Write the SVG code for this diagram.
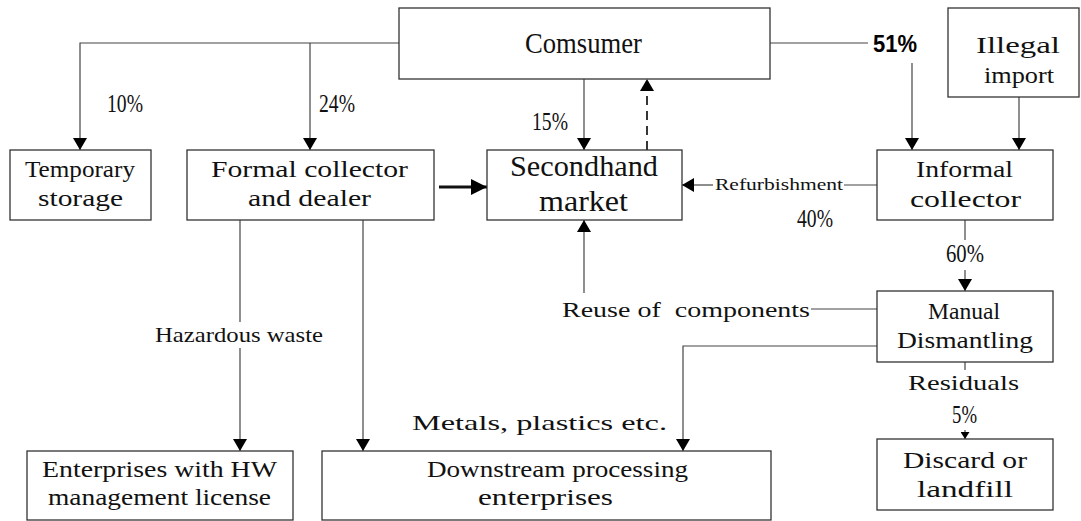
<svg xmlns="http://www.w3.org/2000/svg" width="1081" height="521" viewBox="0 0 1081 521">
<defs>
<style>
.box{fill:#fff;stroke:#333;stroke-width:1.3}
.ln{fill:none;stroke:#444;stroke-width:1.2}
text{font-family:"Liberation Serif","Noto Sans CJK SC",serif;fill:#111}
.t{font-size:24px}
.tb{font-size:29px}
.ts{font-size:17px}
.th{font-size:22px}
.p{font-size:25px}
.b{font-family:"Liberation Sans","Noto Sans CJK SC",sans-serif;font-size:24px;font-weight:bold;fill:#000}
</style>
<marker id="ah" markerUnits="userSpaceOnUse" markerWidth="13" markerHeight="14" refX="12" refY="7" orient="auto">
<path d="M0,0 L12,7 L0,14 z" fill="#000"/>
</marker>
<marker id="ahb" markerUnits="userSpaceOnUse" markerWidth="17" markerHeight="16" refX="16" refY="8" orient="auto">
<path d="M0,0 L16,8 L0,16 z" fill="#000"/>
</marker>
<marker id="ahs" markerUnits="userSpaceOnUse" markerWidth="8" markerHeight="9" refX="7" refY="4.5" orient="auto">
<path d="M0,0 L7,4.5 L0,9 z" fill="#000"/>
</marker>
</defs>
<rect width="1081" height="521" fill="#fff"/>

<g id="connectors">
<path class="ln" d="M399,43 H80 V150" marker-end="url(#ah)"/>
<path class="ln" d="M310,43 V150" marker-end="url(#ah)"/>
<path class="ln" d="M584,79 V150" marker-end="url(#ah)"/>
<path class="ln" d="M647,150 V79" style="stroke-dasharray:9,6;stroke-width:1.8;stroke:#222" marker-end="url(#ah)"/>
<path class="ln" d="M439,187 H487" style="stroke-width:2.8;stroke:#111" marker-end="url(#ahb)"/>
<path class="ln" d="M770,43 H868"/>
<path class="ln" d="M912,63 V150" marker-end="url(#ah)"/>
<path class="ln" d="M1019,97 V150" marker-end="url(#ah)"/>
<path class="ln" d="M877,185 H844"/>
<path class="ln" d="M713,185 H682" marker-end="url(#ah)"/>
<path class="ln" d="M965,220 V240"/>
<path class="ln" d="M965,270 V291" marker-end="url(#ah)"/>
<path class="ln" d="M584,293 V220" marker-end="url(#ah)"/>
<path class="ln" d="M811,309 H877"/>
<path class="ln" d="M877,346 H683 V451" marker-end="url(#ah)"/>
<path class="ln" d="M965,362 V370"/>
<path class="ln" d="M965,430 V439" marker-end="url(#ahs)"/>
<path class="ln" d="M240,220 V322"/>
<path class="ln" d="M240,348 V451" marker-end="url(#ah)"/>
<path class="ln" d="M363,220 V451" marker-end="url(#ah)"/>
</g>

<g id="labels">
<text class="p" x="107" y="112" textLength="36" lengthAdjust="spacingAndGlyphs">10%</text>
<text class="p" x="319" y="112" textLength="36" lengthAdjust="spacingAndGlyphs">24%</text>
<text class="p" x="532" y="130" textLength="36" lengthAdjust="spacingAndGlyphs">15%</text>
<text class="b" x="873" y="52" textLength="44" lengthAdjust="spacingAndGlyphs">51%</text>
<text class="ts" x="715" y="190" textLength="128" lengthAdjust="spacingAndGlyphs">Refurbishment</text>
<text class="p" x="797" y="227" textLength="36" lengthAdjust="spacingAndGlyphs">40%</text>
<text class="p" x="946" y="262" textLength="38" lengthAdjust="spacingAndGlyphs">60%</text>
<text class="th" x="562" y="317" textLength="248" lengthAdjust="spacingAndGlyphs" xml:space="preserve">Reuse of  components</text>
<text class="th" x="155" y="342" textLength="168" lengthAdjust="spacingAndGlyphs">Hazardous waste</text>
<text class="th" x="412" y="430" textLength="255" lengthAdjust="spacingAndGlyphs">Metals, plastics etc.</text>
<text class="th" x="908" y="390" textLength="111" lengthAdjust="spacingAndGlyphs">Residuals</text>
<text class="p" x="952" y="423" textLength="25" lengthAdjust="spacingAndGlyphs">5%</text>
</g>

<g id="consumer">
<rect class="box" x="399" y="8" width="371" height="71"/>
<text class="tb" x="525" y="53" textLength="117" lengthAdjust="spacingAndGlyphs">Comsumer</text>
</g>
<g id="temporary-storage">
<rect class="box" x="10" y="150" width="141" height="70"/>
<text class="t" x="25" y="177" textLength="110" lengthAdjust="spacingAndGlyphs">Temporary</text>
<text class="t" x="38" y="206" textLength="85" lengthAdjust="spacingAndGlyphs">storage</text>
</g>
<g id="formal-collector">
<rect class="box" x="187" y="150" width="247" height="70"/>
<text class="t" x="211" y="177" textLength="197" lengthAdjust="spacingAndGlyphs">Formal collector</text>
<text class="t" x="248" y="206" textLength="123" lengthAdjust="spacingAndGlyphs">and dealer</text>
</g>
<g id="secondhand-market">
<rect class="box" x="487" y="150" width="195" height="70"/>
<text class="tb" x="510" y="176" textLength="148" lengthAdjust="spacingAndGlyphs">Secondhand</text>
<text class="tb" x="539" y="211" textLength="89" lengthAdjust="spacingAndGlyphs">market</text>
</g>
<g id="illegal-import">
<rect class="box" x="948" y="8" width="131" height="89"/>
<text class="t" x="976" y="53" textLength="84" lengthAdjust="spacingAndGlyphs">Illegal</text>
<text class="t" x="984" y="83" textLength="70" lengthAdjust="spacingAndGlyphs">import</text>
</g>
<g id="informal-collector">
<rect class="box" x="877" y="150" width="176" height="70"/>
<text class="t" x="916" y="177" textLength="97" lengthAdjust="spacingAndGlyphs">Informal</text>
<text class="t" x="910" y="207" textLength="111" lengthAdjust="spacingAndGlyphs">collector</text>
</g>
<g id="manual-dismantling">
<rect class="box" x="877" y="291" width="176" height="71"/>
<text class="t" x="928" y="319" textLength="72" lengthAdjust="spacingAndGlyphs">Manual</text>
<text class="t" x="897" y="348" textLength="136" lengthAdjust="spacingAndGlyphs">Dismantling</text>
</g>
<g id="discard-landfill">
<rect class="box" x="877" y="439" width="176" height="71"/>
<text class="t" x="903" y="468" textLength="124" lengthAdjust="spacingAndGlyphs">Discard or</text>
<text class="t" x="917" y="497" textLength="96" lengthAdjust="spacingAndGlyphs">landfill</text>
</g>
<g id="hw-enterprises">
<rect class="box" x="27" y="451" width="266" height="69"/>
<text class="t" x="42" y="477" textLength="235" lengthAdjust="spacingAndGlyphs">Enterprises with HW</text>
<text class="t" x="48" y="505" textLength="223" lengthAdjust="spacingAndGlyphs">management license</text>
</g>
<g id="downstream">
<rect class="box" x="322" y="451" width="449" height="69"/>
<text class="t" x="427" y="477" textLength="261" lengthAdjust="spacingAndGlyphs">Downstream processing</text>
<text class="t" x="478" y="505" textLength="135" lengthAdjust="spacingAndGlyphs">enterprises</text>
</g>
</svg>
